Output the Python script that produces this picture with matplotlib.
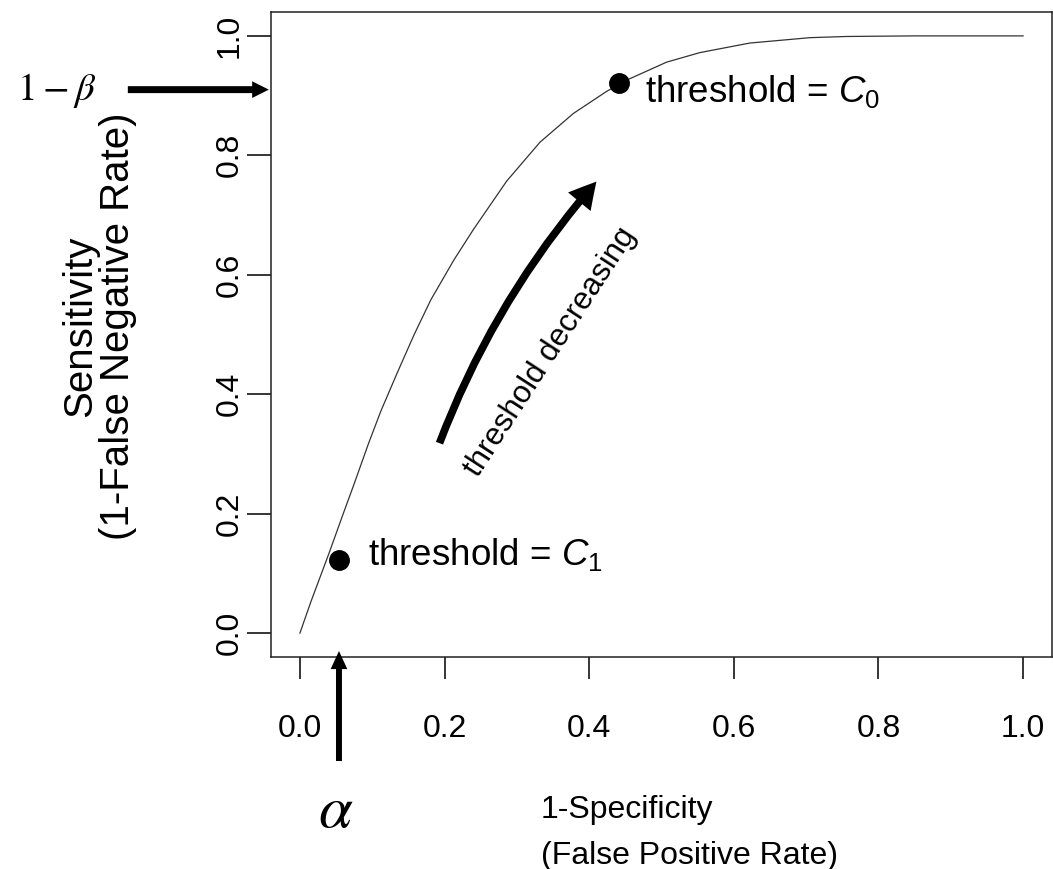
import matplotlib
matplotlib.use('Agg')
import matplotlib.pyplot as plt

# ROC curve, values
fpr = [0.0, 0.015, 0.040, 0.059, 0.075, 0.095, 0.112, 0.135, 0.158, 0.181,
       0.213, 0.240, 0.286, 0.332, 0.378, 0.424, 0.452, 0.507, 0.553, 0.622,
       0.705, 0.755, 0.850, 1.0]
tpr = [0.0, 0.052, 0.133, 0.197, 0.250, 0.318, 0.372, 0.437, 0.500, 0.558,
       0.625, 0.676, 0.757, 0.822, 0.870, 0.907, 0.926, 0.956, 0.972, 0.988,
       0.997, 0.999, 1.0, 1.0]

# the two marked thresholds
point_fpr = [0.054, 0.441]
point_tpr = [0.122, 0.921]
point_labels = [r'threshold = $C_1$', r'threshold = $C_0$']

beta_level = 0.91   # where the 1-beta arrow points on the y axis

ticks = [0.0, 0.2, 0.4, 0.6, 0.8, 1.0]
tick_labels = ['0.0', '0.2', '0.4', '0.6', '0.8', '1.0']

plt.rcParams['font.family'] = ['Liberation Sans', 'DejaVu Sans']
plt.rcParams['mathtext.fontset'] = 'custom'
plt.rcParams['mathtext.rm'] = 'Liberation Sans'
plt.rcParams['mathtext.it'] = 'Liberation Sans:italic'

W, H = 1053, 869
fig = plt.figure(figsize=(W / 100, H / 100), dpi=100)
ax = fig.add_axes([271 / W, (H - 657) / H, (1052 - 271) / W, (657 - 12) / H])

# curve and points
ax.plot(fpr, tpr, color='#333333', lw=0.9)
ax.plot(point_fpr, point_tpr, 'o', color='black', ms=14)

ax.text(0.094, 0.114, point_labels[0], fontsize=26.5, va='baseline')
ax.text(0.477, 0.889, point_labels[1], fontsize=26.5, va='baseline')

# axes, R style
ax.set_xlim(-0.04, 1.04)
ax.set_ylim(-0.04, 1.04)
ax.set_xticks(ticks)
ax.set_xticklabels(tick_labels)
ax.set_yticks(ticks)
ax.set_yticklabels(tick_labels, rotation=90, va='center')
ax.tick_params(axis='x', length=15.8, width=1.1, pad=25, labelsize=23)
ax.tick_params(axis='y', length=17.3, width=1.1, pad=1.5, labelsize=23)
for sp in ax.spines.values():
    sp.set_linewidth(1.1)
    sp.set_color('#222222')

# arrows
ax.annotate('', xy=(-0.043, beta_level), xytext=(-141, 0),
            textcoords='offset pixels', annotation_clip=False,
            arrowprops=dict(arrowstyle='simple,head_length=12,head_width=12,tail_width=5',
                            mutation_scale=1, fc='black', ec='none', lw=0,
                            shrinkA=0, shrinkB=0))
ax.annotate('', xy=(point_fpr[0], -0.03), xytext=(0, -110),
            textcoords='offset pixels', annotation_clip=False,
            arrowprops=dict(arrowstyle='simple,head_length=13,head_width=12,tail_width=4.3',
                            mutation_scale=1, fc='black', ec='none', lw=0,
                            shrinkA=0, shrinkB=0))
ax.annotate('', xy=(0.410, 0.756), xytext=(0.193, 0.318),
            arrowprops=dict(arrowstyle='simple,head_length=19,head_width=21,tail_width=5.5',
                            connectionstyle='arc3,rad=-0.09',
                            mutation_scale=1, fc='black', ec='none', lw=0,
                            shrinkA=0, shrinkB=0))

fig.text(550 / W, 1 - 352 / H, 'threshold decreasing', rotation=57,
         rotation_mode='anchor', ha='center', va='center', fontsize=22.5)

# greek labels
fig.text(17 / W, 1 - 100 / H, r'$1-\beta$', math_fontfamily='stix',
         fontsize=28, ha='left', va='baseline')
fig.text(336 / W, 1 - 827 / H, r'$\alpha$', math_fontfamily='stix',
         fontsize=44, ha='center', va='baseline')

# axis titles
fig.text(99 / W, 1 - 326 / H, 'Sensitivity\n(1-False Negative Rate)',
         rotation=90, ha='center', va='center', multialignment='center',
         fontsize=29, linespacing=1.0)
fig.text(541 / W, 1 - 818 / H, '1-Specificity', fontsize=23, va='baseline')
fig.text(541 / W, 1 - 864 / H, '(False Positive Rate)', fontsize=23, va='baseline')

fig.savefig('out.png', dpi=100)
